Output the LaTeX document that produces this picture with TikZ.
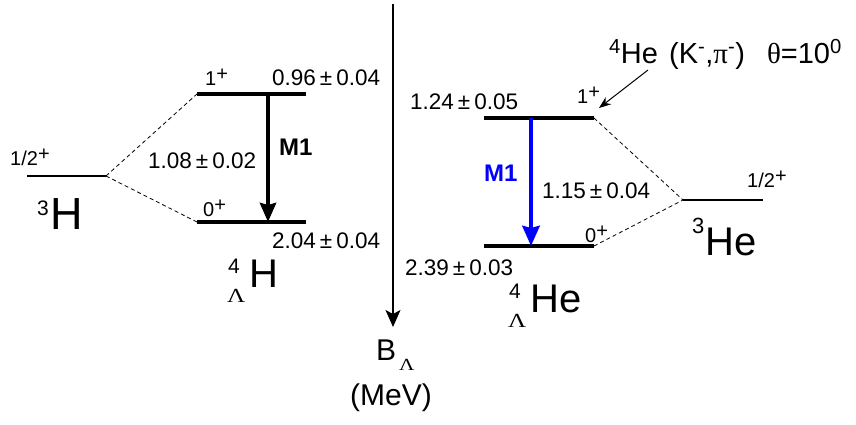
\documentclass[tikz,border=0pt]{standalone}
\usepackage{fontspec}
\setmainfont{Liberation Sans}
\newfontfamily\grk{Liberation Serif}
\usepackage{tikz}
\usetikzlibrary{arrows.meta}
\newcommand{\pmval}[2]{#1\kern4pt±\kern4pt#2}
\newcommand{\spin}[1]{#1\raisebox{5pt}{+}}
\newcommand{\lam}[1]{{\fontsize{#1}{#1}\grk\scalebox{1.25}[1]{Λ}}}
\newcommand{\hyper}[2]{\makebox[0pt][l]{\kern1pt\raisebox{14pt}{\fontsize{21}{21}\selectfont #1}}\raisebox{-15pt}{\lam{20}}\kern4pt#2}

\begin{document}
\begin{tikzpicture}[x=1pt,y=-1pt,
  level/.style={line width=4pt},
  core/.style={line width=2.4pt},
  link/.style={line width=0.8pt,dash pattern=on 4pt off 3pt},
  num/.style={anchor=base west,inner sep=0pt,font=\fontsize{22.5}{26}\selectfont},
  jp/.style={anchor=base west,inner sep=0pt,font=\fontsize{20}{24}\selectfont},
  nuc/.style={anchor=base west,inner sep=0pt,font=\fontsize{40}{44}\selectfont},
  mone/.style={anchor=base west,inner sep=0pt,font=\fontsize{24}{28}\selectfont\bfseries}]
\useasboundingbox (0,0) rectangle (856,424);
% energy axis
\coordinate (axtop) at (393,4);
\coordinate (axbot) at (393,327);
\draw[line width=1.2pt,-{Stealth[length=17pt,width=15pt,inset=4pt]}] (axtop) -- (axbot);
\node[anchor=base west,inner sep=0pt,font=\fontsize{30}{34}\selectfont] (BL) at (376,360) {B\kern3pt\raisebox{-10pt}{\lam{17}}};
\node[anchor=base west,inner sep=0pt,font=\fontsize{30}{34}\selectfont] (MeV) at (350,405) {(MeV)};
% hydrogen side
\coordinate (t3L) at (27,176);  \coordinate (t3R) at (106,176);
\coordinate (h1L) at (197,94);  \coordinate (h1R) at (306,94);
\coordinate (h0L) at (197,222); \coordinate (h0R) at (306,222);
\coordinate (h1M) at (268,94);  \coordinate (h0M) at (268,222);
\draw[core] (t3L) -- (t3R);
\draw[level] (h1L) -- (h1R);
\draw[level] (h0L) -- (h0R);
\draw[link] (t3R) -- (h1L);
\draw[link] (t3R) -- (h0L);
\draw[line width=4pt,-{Stealth[length=19pt,width=16pt,inset=2pt]}] (h1M) -- (h0M);
\node[mone] (mH) at (279,155) {M1};
\node[jp] (sT) at (10,165) {\spin{1/2}};
\node[jp] (sH1) at (205,85) {\spin{1}};
\node[jp] (sH0) at (203,216) {\spin{0}};
\node[num] (vH1) at (272,85) {\pmval{0.96}{0.04}};
\node[num] (dH) at (148,168) {\pmval{1.08}{0.02}};
\node[num] (vH0) at (272,248) {\pmval{2.04}{0.04}};
\node[anchor=base west,inner sep=0pt,font=\fontsize{45}{50}\selectfont] (tri) at (37,229) {\raisebox{14pt}{\fontsize{21}{21}\selectfont 3}\kern2pt H};
\node[nuc] (hyH) at (227,287) {\hyper{4}{H}};
% helium side
\coordinate (e1L) at (484,118); \coordinate (e1R) at (594,118);
\coordinate (e0L) at (484,246); \coordinate (e0R) at (594,246);
\coordinate (e3L) at (683,200); \coordinate (e3R) at (763,200);
\coordinate (e1M) at (531,118); \coordinate (e0M) at (531,246);
\draw[level] (e1L) -- (e1R);
\draw[level] (e0L) -- (e0R);
\draw[core] (e3L) -- (e3R);
\draw[link] (e1R) -- (e3L);
\draw[link] (e0R) -- (e3L);
\draw[line width=4.5pt,blue,-{Stealth[length=20pt,width=17pt,inset=2pt]}] (e1M) -- (e0M);
\node[mone,text=blue] (mHe) at (484,181) {M1};
\node[jp] (sE1) at (577,103) {\spin{1}};
\node[jp] (sE0) at (585,242) {\spin{0}};
\node[jp] (sE3) at (747,187) {\spin{1/2}};
\node[num] (vHe1) at (410,109) {\pmval{1.24}{0.05}};
\node[num] (dHe) at (542,198) {\pmval{1.15}{0.04}};
\node[num] (vHe0) at (405,275) {\pmval{2.39}{0.03}};
\node[nuc] (he3) at (692,255) {\raisebox{22pt}{\fontsize{22}{22}\selectfont 3}\kern1pt He};
\node[nuc] (hyHe) at (508,312) {\hyper{4}{He}};
% reaction
\node[anchor=base west,inner sep=0pt,font=\fontsize{29}{33}\selectfont] (react) at (609,63) {\textsuperscript{4}He\kern3pt\ (K\textsuperscript{-},{\grk π}\textsuperscript{-})\hspace{22pt}{\grk θ}=10\textsuperscript{0}};
\coordinate (kpi) at (648,70);
\coordinate (hit) at (599,108);
\draw[line width=1pt,-{Stealth[length=12pt,width=9pt]}] (kpi) -- (hit);
\end{tikzpicture}
\end{document}
